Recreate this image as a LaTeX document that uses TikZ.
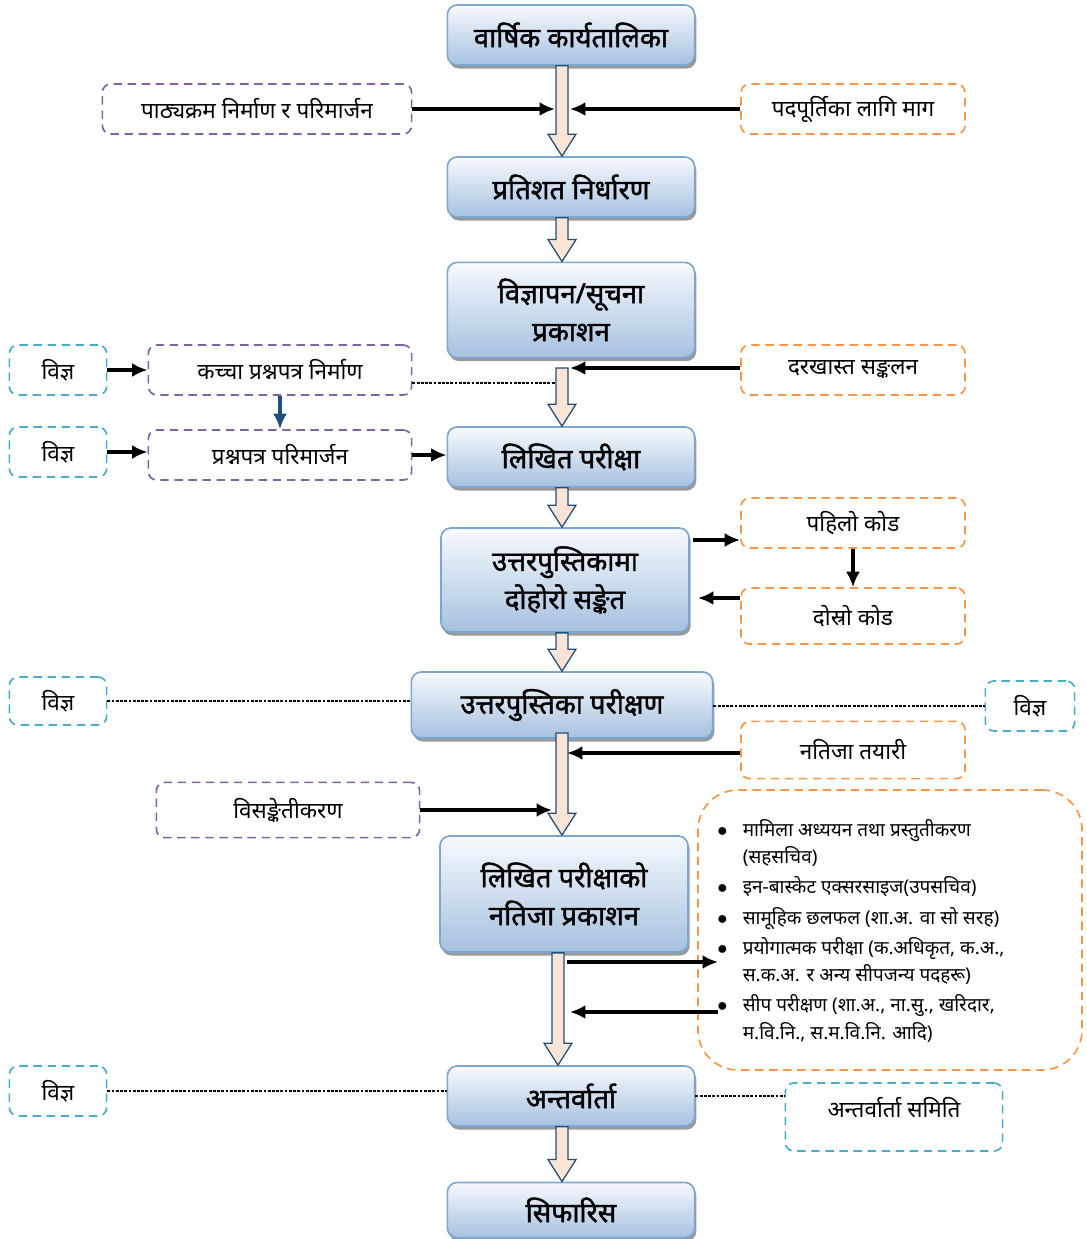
\documentclass[tikz,border=0pt]{standalone}
\usepackage{fontspec}
\newfontfamily\nep[Script=Devanagari]{Noto Sans}
\newfontfamily\nepbold[Script=Devanagari, FakeBold=1.6]{Noto Sans}
\usetikzlibrary{shadows,calc,arrows.meta}
\definecolor{boxline}{HTML}{7EA6D3}
\definecolor{boxtop}{HTML}{F7FAFD}
\definecolor{boxbot}{HTML}{A6C1DF}
\definecolor{peach}{HTML}{FBE4D5}
\definecolor{navy}{HTML}{1F4E79}
\definecolor{purp}{HTML}{8064A2}
\definecolor{orng}{HTML}{F79646}
\definecolor{vcyan}{HTML}{4BACC6}
\tikzset{
  mainbox/.style={draw=boxline, line width=1.2pt, rounded corners=7pt, top color=boxtop, bottom color=boxbot,
    drop shadow={shadow xshift=1.2pt, shadow yshift=-2.5pt, fill=black!50, opacity=0.8},
    minimum width=6.18cm, minimum height=1.5cm, align=center, inner sep=0pt,
    font=\nepbold\fontsize{19.5}{27}\selectfont},
  dbox/.style={dash pattern=on 6pt off 4pt, line width=1.2pt, rounded corners=6pt, align=center,
    minimum height=1.25cm, inner sep=0pt, font=\nep\fontsize{16}{18}\selectfont},
  pbox/.style={dbox, draw=purp, minimum width=6.58cm},
  obox/.style={dbox, draw=orng, minimum width=5.6cm},
  cbox/.style={dbox, draw=vcyan, minimum width=2.43cm},
  link/.style={-{Latex[length=11pt,width=10pt]}, line width=2.3pt},
  dots/.style={densely dotted, line width=2pt},
  barrow/.style={draw=navy, fill=peach, line width=0.9pt, line join=miter}
}
% hollow block arrow between two points
\newcommand{\fatarrow}[2]{%
  \draw[barrow] ($#1+(-6,0)$) -- ($#2+(-6,-22)$) -- ($#2+(-14,-22)$) -- #2
    -- ($#2+(14,-22)$) -- ($#2+(6,-22)$) -- ($#1+(6,0)$) -- cycle;}
\begin{document}
\begin{tikzpicture}[x=0.025cm, y=-0.025cm]
\useasboundingbox (0,0) rectangle (1087,1239);
% main flow
\node[mainbox] (v1) at (571,35) {वार्षिक कार्यतालिका};
\node[mainbox] (v2) at (571,187) {प्रतिशत निर्धारण};
\node[mainbox, minimum height=2.38cm] (v3) at (571,310) {विज्ञापन/सूचना\\प्रकाशन};
\node[mainbox] (v4) at (571,457) {लिखित परीक्षा};
\node[mainbox, minimum width=6.2cm, minimum height=2.6cm] (v5) at (565,580) {उत्तरपुस्तिकामा\\दोहोरो सङ्केत};
\node[mainbox, minimum width=7.53cm, minimum height=1.65cm] (v6) at (562,705) {उत्तरपुस्तिका परीक्षण};
\node[mainbox, minimum width=6.2cm, minimum height=2.9cm] (v7) at (564,894) {लिखित परीक्षाको\\नतिजा प्रकाशन};
\node[mainbox] (v8) at (571,1096) {अन्तर्वार्ता};
\node[mainbox, minimum height=1.38cm] (v9) at (571,1210) {सिफारिस};
\coordinate (ax) at (562,0);
\coordinate (bx) at (558,0);
\fatarrow{(v1.south -| ax)}{(v2.north -| ax)}
\fatarrow{(v2.south -| ax)}{(v3.north -| ax)}
\fatarrow{(562,368)}{(v4.north -| ax)}
\fatarrow{(v4.south -| ax)}{(v5.north -| ax)}
\fatarrow{(v5.south -| ax)}{(v6.north -| ax)}
\fatarrow{(562,733)}{(v7.north -| ax)}
\fatarrow{(v7.south -| bx)}{(v8.north -| bx)}
\fatarrow{(v8.south -| ax)}{(v9.north -| ax)}
% side boxes
\node[pbox, minimum width=7.73cm] (pathya) at (257,109) {पाठ्यक्रम निर्माण र परिमार्जन};
\node[obox] (padpurti) at (853,109) {पदपूर्तिका लागि माग};
\node[cbox] (vigya1) at (58,370) {विज्ञ};
\node[pbox] (kachcha) at (280,370) {कच्चा प्रश्नपत्र निर्माण};
\node[cbox] (vigya2) at (58,452) {विज्ञ};
\node[pbox] (parimarjan) at (280,455) {प्रश्नपत्र परिमार्जन};
\node[obox] (darkhast) at (853,370) {दरखास्त सङ्कलन};
\node[obox] (pahilo) at (853,523) {पहिलो कोड};
\node[obox, minimum height=1.4cm] (dosro) at (853,616) {दोस्रो कोड};
\node[cbox, minimum height=1.2cm] (vigya3) at (58,701) {विज्ञ};
\node[cbox, minimum width=2.23cm] (vigya4) at (1030,706) {विज्ञ};
\node[obox, minimum height=1.43cm] (natija) at (853,750) {नतिजा तयारी};
\node[pbox, minimum height=1.38cm] (bisanket) at (288,810) {विसङ्केतीकरण};
\node[cbox] (vigya5) at (58,1091) {विज्ञ};
\node[dbox, draw=vcyan, minimum width=5.43cm, minimum height=1.7cm, text depth=0.5cm] (samiti) at (894,1117) {अन्तर्वार्ता समिति};
\node[dbox, draw=orng, rounded corners=1cm, minimum width=9.6cm, minimum height=7cm] (options) at (890,930) {};
\node[anchor=north west, inner sep=0pt, font=\nep\fontsize{13.5}{19.4}\selectfont] (list) at (717,817) {%
  \begin{tabular}{@{}c@{\hspace{11pt}}l@{}}
  $\bullet$ & मामिला अध्ययन तथा प्रस्तुतीकरण\\
            & (सहसचिव)\\[2.1pt]
  $\bullet$ & इन-बास्केट एक्सरसाइज(उपसचिव)\\[2.1pt]
  $\bullet$ & सामूहिक छलफल (शा.अ. वा सो सरह)\\[2.1pt]
  $\bullet$ & प्रयोगात्मक परीक्षा (क.अधिकृत, क.अ.,\\
            & स.क.अ. र अन्य सीपजन्य पदहरू)\\[2.1pt]
  $\bullet$ & सीप परीक्षण (शा.अ., ना.सु., खरिदार,\\
            & म.वि.नि., स.म.वि.नि. आदि)
  \end{tabular}};
% connectors
\coordinate (c1) at (555,109);
\coordinate (c2) at (570,109);
\coordinate (c3) at (570,368);
\coordinate (c4) at (555,383);
\coordinate (c5) at (693,540);
\coordinate (c6) at (698,598);
\coordinate (c7) at (567,753);
\coordinate (c8) at (552,810);
\coordinate (c9) at (567,962);
\coordinate (c10) at (718,962);
\coordinate (c11) at (718,1012);
\coordinate (c12) at (570,1012);
\draw[link] (pathya.east) -- (c1);
\draw[link] (padpurti.west) -- (c2);
\draw[link] (vigya1.east) -- (kachcha.west);
\draw[link, navy] (kachcha.south) -- (parimarjan.north);
\draw[link] (vigya2.east) -- (vigya2.east -| parimarjan.west);
\draw[link] (parimarjan.east) -- (parimarjan.east -| v4.west);
\draw[link] (darkhast.west |- c3) -- (c3);
\draw[dots] (kachcha.east |- c4) -- (c4);
\draw[link] (c5) -- (c5 -| pahilo.west);
\draw[link] (pahilo.south) -- (dosro.north);
\draw[link] (c6 -| dosro.west) -- (c6);
\draw[dots] (vigya3.east) -- (vigya3.east -| v6.west);
\draw[dots] (v6.east |- vigya4) -- (vigya4.west);
\draw[link] (natija.west |- c7) -- (c7);
\draw[link] (bisanket.east) -- (c8);
\draw[link] (c9) -- (c10);
\draw[link] (c11) -- (c12);
\draw[dots] (vigya5.east) -- (vigya5.east -| v8.west);
\draw[dots] (v8.east) -- (v8.east -| samiti.west);
\end{tikzpicture}
\end{document}
